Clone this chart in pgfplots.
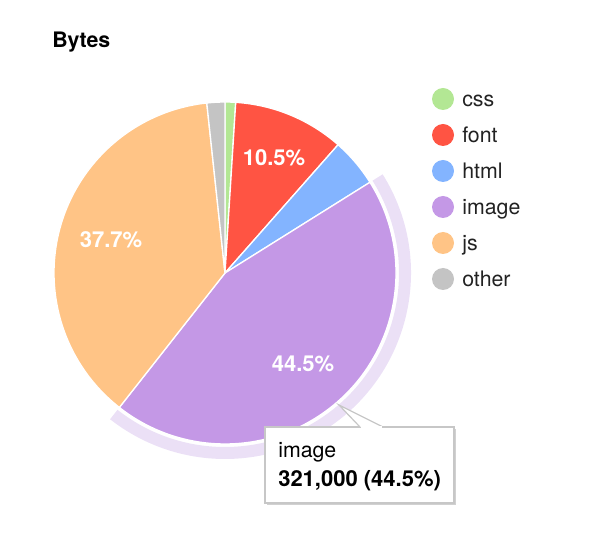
\documentclass[border=0pt]{standalone}
\usepackage{pgfplots}
\usepackage{pgfplotstable}
\pgfplotsset{compat=1.18}
\usepackage{fontspec}
\setmainfont{TeX Gyre Heros}

\definecolor{csscol}{HTML}{B3E794}
\definecolor{fontcol}{HTML}{FF5443}
\definecolor{htmlcol}{HTML}{83B4FF}
\definecolor{imagecol}{HTML}{C498E6}
\definecolor{jscol}{HTML}{FFC486}
\definecolor{othercol}{HTML}{C4C4C4}
\definecolor{halocol}{HTML}{EBE0F6}
\definecolor{txt}{HTML}{222222}

% share of bytes per type, in percent
\pgfplotstableread{
name  value colour
css   1.0   csscol
font  10.5  fontcol
html  4.6   htmlcol
image 44.5  imagecol
js    37.7  jscol
other 1.7   othercol
}\bytes

\begin{document}
\begin{tikzpicture}
\begin{axis}[
    hide axis,
    x=0.75pt, y=0.75pt,
    xmin=0, xmax=600, ymin=0, ymax=550,
    clip=false,
]
\path (axis cs:0,0) rectangle (axis cs:600,550);
% pie centre (225,277), radius 171, in pixel units
\def\cx{225}\def\cy{277}\def\R{171}
\def\cum{0}
\pgfplotsforeachungrouped \i in {0,...,5}{%
    \pgfplotstablegetelem{\i}{value}\of\bytes \let\v\pgfplotsretval
    \pgfplotstablegetelem{\i}{colour}\of\bytes \let\c\pgfplotsretval
    \pgfmathsetmacro\a{90-3.6*\cum}
    \pgfmathsetmacro\b{90-3.6*(\cum+\v)}
    \edef\temp{\noexpand\filldraw[fill=\c, draw=white, line width=1pt, line join=round]
        (axis cs:\cx,\cy) -- (axis cs:{\cx+\R*cos(\a)},{\cy+\R*sin(\a)})
        arc[start angle=\a, end angle=\b, radius=\R] -- cycle;}
    \temp
    \ifnum\i=3 \let\ha\a \let\hb\b \fi
    \pgfmathsetmacro\cum{\cum+\v}
}
% highlight ring of the hovered slice
\edef\temp{\noexpand\fill[halocol]
    (axis cs:{\cx+186*cos(\ha)},{\cy+186*sin(\ha)})
    arc[start angle=\ha, end angle=\hb, radius=186]
    -- (axis cs:{\cx+174*cos(\hb)},{\cy+174*sin(\hb)})
    arc[start angle=\hb, end angle=\ha, radius=174] -- cycle;}
\temp

\begin{scope}[every node/.style={font=\fontsize{16.5}{19}\selectfont\bfseries, text=white, anchor=base, inner sep=0pt}]
\node at (axis cs:274,384) {10.5\%};
\node at (axis cs:111,302) {37.7\%};
\node at (axis cs:303,178) {44.5\%};
\end{scope}

% title
\node[anchor=base west, inner sep=0pt, text=black, font=\fontsize{16}{19}\selectfont\bfseries] at (axis cs:52,502) {Bytes};

% legend
\begin{scope}[every node/.style={font=\fontsize{16}{19}\selectfont, text=txt, anchor=base west, inner sep=0pt}]
\fill[csscol]   (axis cs:443,451) circle[radius=11];
\fill[fontcol]  (axis cs:443,415) circle[radius=11];
\fill[htmlcol]  (axis cs:443,379) circle[radius=11];
\fill[imagecol] (axis cs:443,343) circle[radius=11];
\fill[jscol]    (axis cs:443,307) circle[radius=11];
\fill[othercol] (axis cs:443,271) circle[radius=11];
\node at (axis cs:462,443) {css};
\node at (axis cs:462,407) {font};
\node at (axis cs:462,371) {html};
\node at (axis cs:462,335) {image};
\node at (axis cs:462,299) {js};
\node at (axis cs:462,263) {other};
\end{scope}

% tooltip
\fill[black!18] (axis cs:267,45) rectangle (axis cs:456,121);
\filldraw[fill=white, draw=black!22, line width=0.9pt] (axis cs:265,47) rectangle (axis cs:454,123);
\filldraw[fill=white, draw=black!22, line width=0.9pt, line join=miter] (axis cs:360,123) -- (axis cs:339,145) -- (axis cs:383,123);
\draw[white, line width=1.2pt] (axis cs:361,123) -- (axis cs:382,123);
\node[anchor=base west, inner sep=0pt, text=black, font=\fontsize{16}{19}\selectfont] at (axis cs:278,92) {image};
\node[anchor=base west, inner sep=0pt, text=black, font=\fontsize{16.5}{19}\selectfont\bfseries] at (axis cs:278,63) {321,000 (44.5\%)};
\end{axis}
\end{tikzpicture}
\end{document}
